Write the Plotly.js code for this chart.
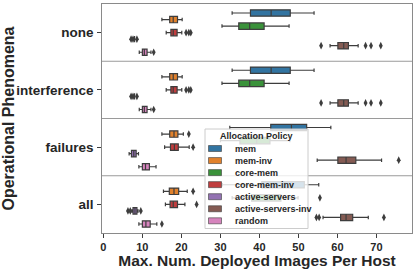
<!DOCTYPE html>
<html>
<head>
<meta charset="utf-8">
<script src="https://cdn.plot.ly/plotly-3.0.1.min.js"></script>
<style>html,body{margin:0;padding:0;background:#fff;}#chart{width:415px;height:269px;}</style>
</head>
<body>
<div id="chart"></div>
<script>
// ---- data ----
const categories = ['none', 'interference', 'failures', 'all'];
const policies = ['mem', 'mem-inv', 'core-mem', 'core-mem-inv', 'active-servers', 'active-servers-inv', 'random'];
const colors = ['#3274a1', '#e1812c', '#3a923a', '#c03d3e', '#9372b2', '#845b53', '#d684bd'];
const xTicks = [0, 10, 20, 30, 40, 50, 60, 70];

// per policy, per category (none, interference, failures, all)
const lowerFence = [
  [33.0, 33.0, 32.4, 30.5],
  [15.0, 15.0, 15.0, 15.4],
  [30.4, 30.4, 30.0, 33.0],
  [16.1, 16.1, 15.7, 15.9],
  [8.0, 8.0, 6.6, 7.3],
  [58.1, 58.1, 54.8, 56.3],
  [9.2, 9.2, 9.1, 9.1]
];
const q1 = [
  [37.7, 37.7, 42.9, 40.6],
  [17.0, 17.0, 17.0, 16.9],
  [34.7, 34.7, 35.0, 38.0],
  [17.3, 17.3, 17.2, 17.1],
  [8.0, 8.0, 7.2, 7.6],
  [60.1, 60.1, 60.1, 60.8],
  [10.0, 10.0, 10.0, 10.0]
];
const median = [
  [43.0, 43.0, 48.2, 46.5],
  [17.9, 17.9, 18.1, 18.1],
  [37.5, 37.5, 39.3, 42.0],
  [17.9, 17.9, 18.2, 17.9],
  [8.0, 8.0, 7.8, 8.1],
  [61.6, 61.6, 62.2, 62.2],
  [10.5, 10.5, 10.8, 10.9]
];
const q3 = [
  [47.9, 47.9, 52.1, 51.5],
  [19.0, 19.0, 19.1, 19.3],
  [41.2, 41.2, 42.7, 45.5],
  [18.9, 18.9, 19.2, 19.0],
  [8.0, 8.0, 8.4, 8.6],
  [62.8, 62.8, 64.7, 63.9],
  [11.2, 11.2, 11.8, 12.0]
];
const upperFence = [
  [54.0, 54.0, 58.3, 55.2],
  [20.2, 20.2, 20.5, 21.5],
  [47.6, 47.6, 47.8, 49.9],
  [20.1, 20.1, 22.0, 20.9],
  [8.0, 8.0, 9.0, 8.9],
  [65.3, 65.3, 71.3, 67.9],
  [12.2, 12.2, 13.5, 13.7]
];
const outliers = [
  [[], [], [], []],
  [[], [], [21.9], [23.0]],
  [[], [], [], [55.5]],
  [[21.2, 21.9, 22.4], [21.2, 21.9, 22.4], [23.0], [23.9]],
  [[7.1, 7.6, 8.6], [7.1, 7.6, 8.6], [], [6.3, 6.9, 9.6]],
  [[55.8, 67.2, 68.6, 71.1], [55.8, 67.2, 68.6, 71.1], [75.7], [54.6, 55.3, 71.9]],
  [[12.9], [12.9], [], [15.0]]
];

// ---- figure ----
const FONT = 'Liberation Sans, Arial, sans-serif';
const EDGE = '#3d3d3d';

const traces = policies.map((p, k) => ({
  type: 'box',
  orientation: 'h',
  name: p,
  y: categories,
  x: outliers[k].map(o => (o.length ? o : [null])),
  q1: q1[k],
  median: median[k],
  q3: q3[k],
  lowerfence: lowerFence[k],
  upperfence: upperFence[k],
  boxpoints: 'outliers',
  jitter: 0,
  pointpos: 0,
  fillcolor: colors[k],
  line: {color: EDGE, width: 1.2},
  whiskerwidth: 0.55,
  marker: {symbol: 'diamond-tall', size: 5.5, color: EDGE, line: {width: 0}},
  showlegend: false,
  hoverinfo: 'skip'
}));

// plot-area geometry (px) used for the hand-made legend
const L = 102, T = 4, W = 310, H = 229;
const px = x => (x - L) / W;
const py = y => (T + H - y) / H;

const shapes = [];
for (let i = 0; i < categories.length - 1; i++) {
  shapes.push({type: 'line', xref: 'paper', yref: 'y', x0: 0, x1: 1, y0: i + 0.5, y1: i + 0.5,
    line: {color: '#9a9a9a', width: 1.2}, layer: 'below'});
}
// legend box
shapes.push({type: 'rect', xref: 'paper', yref: 'paper', x0: px(205), x1: px(308), y0: py(228.5), y1: py(129),
  fillcolor: 'rgba(255,255,255,0.8)', line: {color: '#cccccc', width: 1}, layer: 'above'});
const annotations = [{
  xref: 'paper', yref: 'paper', x: px(256.5), y: py(136), xanchor: 'center', yanchor: 'middle',
  text: 'Allocation Policy', showarrow: false,
  font: {family: FONT, size: 9, weight: 'bold', color: '#262626'}
}];
policies.forEach((p, i) => {
  const yc = 148.5 + 12.05 * i;
  shapes.push({type: 'rect', xref: 'paper', yref: 'paper', x0: px(208.5), x1: px(221.5), y0: py(yc + 3), y1: py(yc - 3),
    fillcolor: colors[i], line: {color: EDGE, width: 0.6}, layer: 'above'});
  annotations.push({xref: 'paper', yref: 'paper', x: px(232.5), y: py(yc), xanchor: 'left', yanchor: 'middle',
    text: p, showarrow: false, font: {family: FONT, size: 9, weight: 'bold', color: '#262626'}});
});

const layout = {
  width: 415, height: 269,
  margin: {l: L, r: 415 - L - W, t: T, b: 269 - T - H, pad: 0},
  paper_bgcolor: '#ffffff', plot_bgcolor: '#ffffff',
  font: {family: FONT, color: '#262626'},
  boxmode: 'group', boxgap: 0.2, boxgroupgap: 0.02,
  showlegend: false,
  xaxis: {
    range: [-0.35, 79.1], tickmode: 'array', tickvals: xTicks, ticktext: xTicks.map(String),
    ticks: 'outside', ticklen: 3.5, tickwidth: 1, tickcolor: '#3d3d3d',
    showgrid: false, zeroline: false, showline: true, mirror: true, linecolor: '#8a8a8a', linewidth: 1.2,
    tickfont: {family: FONT, size: 11, weight: 'bold', color: '#262626'},
    title: {text: 'Max. Num. Deployed Images Per Host', font: {family: FONT, size: 15.5, weight: 'bold', color: '#262626'}, standoff: 5}
  },
  yaxis: {
    type: 'category', categoryorder: 'array', categoryarray: categories, range: [3.5, -0.5],
    ticks: 'outside', ticklen: 3.5, tickwidth: 1, tickcolor: '#3d3d3d', ticklabelstandoff: 1,
    showgrid: false, zeroline: false, showline: true, mirror: true, linecolor: '#8a8a8a', linewidth: 1.2,
    tickfont: {family: FONT, size: 13.5, weight: 'bold', color: '#262626'},
    title: {text: 'Operational Phenomena', font: {family: FONT, size: 16, weight: 'bold', color: '#262626'}, standoff: 7}
  },
  shapes: shapes,
  annotations: annotations
};

Plotly.newPlot('chart', traces, layout, {staticPlot: true, displayModeBar: false});
</script>
</body>
</html>
